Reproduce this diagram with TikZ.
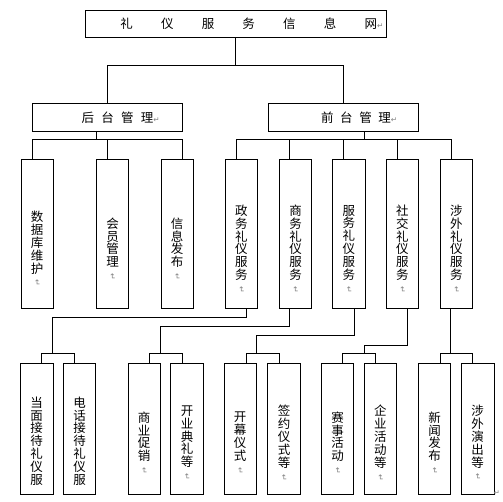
\documentclass[tikz,border=0pt]{standalone}
\usepackage{fontspec}
\usepackage{graphicx}
\newfontfamily\cjk{Noto Sans CJK SC}
\newfontfamily\dvs{DejaVu Sans}
\newcommand{\pmark}{{\color{gray}\dvs\fontsize{7.5}{7.5}\selectfont ↵}}
\newcommand{\vpmark}{{\color{gray}\dvs\fontsize{8}{8}\selectfont\rotatebox[origin=c]{-90}{↵}}}
\begin{document}
\begin{tikzpicture}[x=1pt,y=-1pt,line width=0.75pt,
  hbox/.style={draw,inner sep=0pt,minimum height=28pt,minimum width=150.2pt},
  vbox/.style={draw,inner sep=0pt,minimum width=32.5pt,minimum height=149pt},
  lbox/.style={draw,inner sep=0pt,minimum width=32.5pt,minimum height=131pt},
  vtext/.style={inner sep=0pt,align=center,font=\cjk\fontsize{12.5}{12.8}\selectfont},
  htext/.style={inner sep=0pt,anchor=west,font=\cjk\fontsize{12.5}{14}\selectfont}]
\useasboundingbox (0,0) rectangle (503,502);
% top level
\node[draw,inner sep=0pt,minimum width=301pt,minimum height=26.7pt] (top) at (235.5,23.7) {};
\node[htext] (topt) at (120,24) {礼\hspace{28.2pt}仪\hspace{28.2pt}服\hspace{28.2pt}务\hspace{28.2pt}信\hspace{28.2pt}息\hspace{28.2pt}网\pmark};
% second level
\node[hbox] (bk) at (107.5,117) {};
\node[htext] (bkt) at (81.2,117.3) {后\hspace{7.3pt}台\hspace{7.3pt}管\hspace{7.3pt}理\pmark};
\node[hbox] (fr) at (343.3,117) {};
\node[htext] (frt) at (320.7,117.3) {前\hspace{6.6pt}台\hspace{6.6pt}管\hspace{6.6pt}理\pmark};
% third level
\node[vbox] (b1) at (37.2,233.5) {};
\node[vbox] (b2) at (112.5,233.5) {};
\node[vbox] (b3) at (177.2,233.5) {};
\node[vbox] (f1) at (241.3,233.5) {};
\node[vbox] (f2) at (295.5,233.5) {};
\node[vbox] (f3) at (348.8,233.5) {};
\node[vbox] (f4) at (402.3,233.5) {};
\node[vbox] (f5) at (456.3,233.5) {};
\node[vtext] (b1t) at (37.2,249) {数\\据\\库\\维\\护\\\vpmark};
\node[vtext] (b2t) at (112.5,249) {会\\员\\管\\理\\\vpmark};
\node[vtext] (b3t) at (177.2,249) {信\\息\\发\\布\\\vpmark};
\node[vtext] (f1t) at (241.3,249) {政\\务\\礼\\仪\\服\\务\\\vpmark};
\node[vtext] (f2t) at (295.5,249) {商\\务\\礼\\仪\\服\\务\\\vpmark};
\node[vtext] (f3t) at (348.8,249) {服\\务\\礼\\仪\\服\\务\\\vpmark};
\node[vtext] (f4t) at (402.3,249) {社\\交\\礼\\仪\\服\\务\\\vpmark};
\node[vtext] (f5t) at (456.3,249) {涉\\外\\礼\\仪\\服\\务\\\vpmark};
% bottom level
\node[lbox] (g1) at (36.7,428.8) {};
\node[lbox] (g2) at (79.5,428.8) {};
\node[lbox] (g3) at (144.2,428.8) {};
\node[lbox] (g4) at (187,428.8) {};
\node[lbox] (g5) at (240.2,428.8) {};
\node[lbox] (g6) at (284,428.8) {};
\node[lbox] (g7) at (337.5,428.8) {};
\node[lbox] (g8) at (380.3,428.8) {};
\node[lbox] (g9) at (434.5,428.8) {};
\node[lbox] (g10) at (477.7,428.8) {};
\node[vtext] (g1t) at (36.7,441) {当\\面\\接\\待\\礼\\仪\\服};
\node[vtext] (g2t) at (79.5,441) {电\\话\\接\\待\\礼\\仪\\服};
\node[vtext] (g3t) at (144.2,443) {商\\业\\促\\销\\\vpmark};
\node[vtext] (g4t) at (187,443) {开\\业\\典\\礼\\等\\\vpmark};
\node[vtext] (g5t) at (240.2,443) {开\\幕\\仪\\式\\\vpmark};
\node[vtext] (g6t) at (284,443) {签\\约\\仪\\式\\等\\\vpmark};
\node[vtext] (g7t) at (337.5,443) {赛\\事\\活\\动\\\vpmark};
\node[vtext] (g8t) at (380.3,443) {企\\业\\活\\动\\等\\\vpmark};
\node[vtext] (g9t) at (434.5,443) {新\\闻\\发\\布\\\vpmark};
\node[vtext] (g10t) at (477.7,443) {涉\\外\\演\\出\\等\\\vpmark};
\node[inner sep=0pt] (endmark) at (496.7,492.7) {\pmark};
% connectors top
\draw (top.south) -- (top.south |- 0,65) -| (bk.north);
\draw (top.south |- 0,65) -| (fr.north);
% back-office bus
\draw ([xshift=-10.8pt]bk.south) -- ++(0,9);
\draw ([xshift=-4.9pt]b1.north) -- ++(0,-19) -| ([xshift=5.5pt]b3.north);
\draw ([xshift=-5.2pt]b2.north) -- ++(0,-19);
% front-office bus
\draw ([xshift=21pt]fr.south) -- ++(0,9);
\draw ([xshift=-4.6pt]f1.north) -- ++(0,-19) -| ([xshift=-5.3pt]f5.north);
\draw ([xshift=-5.8pt]f2.north) -- ++(0,-19);
\draw ([xshift=-5.5pt]f3.north) -- ++(0,-19);
\draw ([xshift=-5pt]f4.north) -- ++(0,-19);
% bottom junctions
\coordinate (j1) at (52.3,354);
\coordinate (j2) at (160.3,354);
\coordinate (j3) at (256,354);
\coordinate (j4) at (364.3,354);
\coordinate (j5) at (450.7,354);
\draw ([xshift=5.4pt]f1.south) -- ++(0,9) -| (j1);
\draw ([xshift=-5.8pt]f2.south) -- ++(0,18) -| (j2);
\draw ([xshift=5.5pt]f3.south) -- ++(0,27) -| (j3);
\draw ([xshift=5pt]f4.south) -- ++(0,36.7) -| (j4);
\draw ([xshift=-5.6pt]f5.south) -- (j5);
% bottom buses
\draw ([xshift=5pt]g1.north) -- ++(0,-9.3) -| ([xshift=-5.2pt]g2.north);
\draw ([xshift=5.5pt]g3.north) -- ++(0,-9.3) -| ([xshift=-5pt]g4.north);
\draw ([xshift=5.8pt]g5.north) -- ++(0,-9.3) -| ([xshift=-5pt]g6.north);
\draw ([xshift=5.2pt]g7.north) -- ++(0,-9.3) -| ([xshift=-5pt]g8.north);
\draw ([xshift=5.5pt]g9.north) -- ++(0,-9.3) -| ([xshift=-5.4pt]g10.north);
\end{tikzpicture}
\end{document}
